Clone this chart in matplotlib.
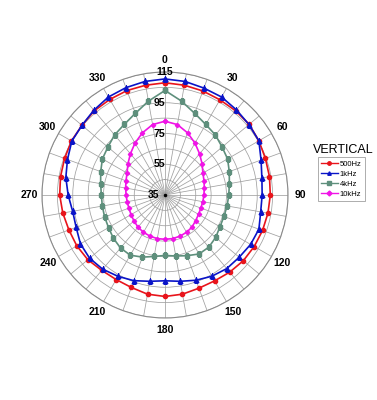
import numpy as np
import matplotlib
matplotlib.use("Agg")
import matplotlib.pyplot as plt

plt.rcParams.update({
    "font.family": ["Liberation Sans", "DejaVu Sans"],
    "font.size": 7,
})

# angles in degrees, clockwise from the top
angles = np.arange(0, 360, 10)

# levels (dB)
spl_500 = [108, 107.5, 107, 106.5, 106.5, 106.5, 105.5, 104.5, 104, 103.5, 103, 102.5,
           102, 101.5, 100.5, 99.5, 99.5, 100.5, 101, 100.5, 99, 98.5, 99, 100.5,
           101.2, 101.5, 102.5, 103.5, 104, 104.5, 105.3, 105.5, 106.5, 106.8, 107.3, 107.5]
spl_1k = [110.5, 110, 109, 108.6, 107.3, 106.3, 105.5, 101.5, 99, 98.2, 98.2, 100,
          99.3, 98, 97.5, 96, 94, 92, 90.8, 92, 94.3, 96.1, 98, 99,
          98.5, 96.5, 96, 98, 100.5, 102.5, 105, 105.5, 107, 108.6, 109.3, 110]
spl_4k = [103, 97, 91.5, 88, 86, 83.5, 82, 79.5, 77.5, 76.5, 76, 75.8,
          76.3, 78, 79.3, 79.3, 77, 75.3, 74.3, 75.6, 78, 80.2, 80, 78.8,
          77.4, 76.8, 76.4, 76.4, 77.5, 79.5, 82, 83.5, 86, 88, 91.5, 97]
spl_10k = [83, 81.5, 78, 74, 70, 66.5, 63.5, 62, 61, 60.3, 60, 59.8,
           60.2, 61, 62.3, 63, 63.5, 63.8, 63.8, 63.8, 63.5, 63, 62.3, 61.3,
           60.5, 60, 60, 60.3, 61, 62, 63.5, 66.5, 70, 74, 78, 81.5]

series = [
    ("500Hz", spl_500, "#E8141B", "o", 3.0),
    ("1kHz", spl_1k, "#0A14C8", "^", 3.4),
    ("4kHz", spl_4k, "#5E8F7C", "s", 3.0),
    ("10kHz", spl_10k, "#F014E6", "D", 2.2),
]

r_labels = [35, 55, 75, 95, 115]
r_label_dx = [-11, -6, -6, -6, 0]  # pixel shift of each radial label
theta_labels = ["0", "30", "60", "90", "120", "150", "180", "210", "240", "270", "300", "330"]

fig = plt.figure(figsize=(3.77, 4.0), dpi=100)
ax = fig.add_axes([0.1114, 0.205, 0.6525, 0.615], projection="polar")
ax.set_theta_zero_location("N")
ax.set_theta_direction(-1)
ax.set_rlim(35, 115)

th = np.deg2rad(np.append(angles, angles[0]))
handles = []
for name, vals, col, mk, ms in series:
    v = np.append(vals, vals[0])
    h, = ax.plot(th, v, color=col, lw=1.2, marker=mk, ms=ms, label=name)
    handles.append(h)

# grid
ax.set_rgrids(np.arange(45, 116, 10), labels=[""] * 8)
ax.set_thetagrids(np.arange(0, 360, 10), labels=[""] * 36)
ax.grid(True, color="#a0a0a0", lw=0.55)
ax.spines["polar"].set_color("#8a8a8a")
ax.spines["polar"].set_linewidth(0.8)
ax.tick_params(length=0)

for i, lab in enumerate(theta_labels):
    ax.text(np.deg2rad(i * 30), 123, lab, ha="center", va="center",
            fontsize=7.5, fontweight="bold")

for r, dx in zip(r_labels, r_label_dx):
    ax.annotate(str(r), xy=(0, r), xytext=(dx, 0), textcoords="offset pixels",
                ha="center", va="center", fontsize=7.5, fontweight="bold")

ax.plot([0], [35], "k.", ms=3)

fig.text(0.91, 0.625, "VERTICAL", ha="center", va="center", fontsize=9)
leg = fig.legend(handles=handles, loc="upper left", bbox_to_anchor=(0.843, 0.607),
                 fontsize=5.5, frameon=True, fancybox=False, handlelength=2.2,
                 handletextpad=0.3, borderpad=0.4, labelspacing=0.35, borderaxespad=0)
leg.get_frame().set_edgecolor("#888888")
leg.get_frame().set_linewidth(0.6)
for h in leg.legend_handles:
    h.set_markersize(2.5)
    h.set_linewidth(1.0)

fig.savefig("out.png", dpi=100)
